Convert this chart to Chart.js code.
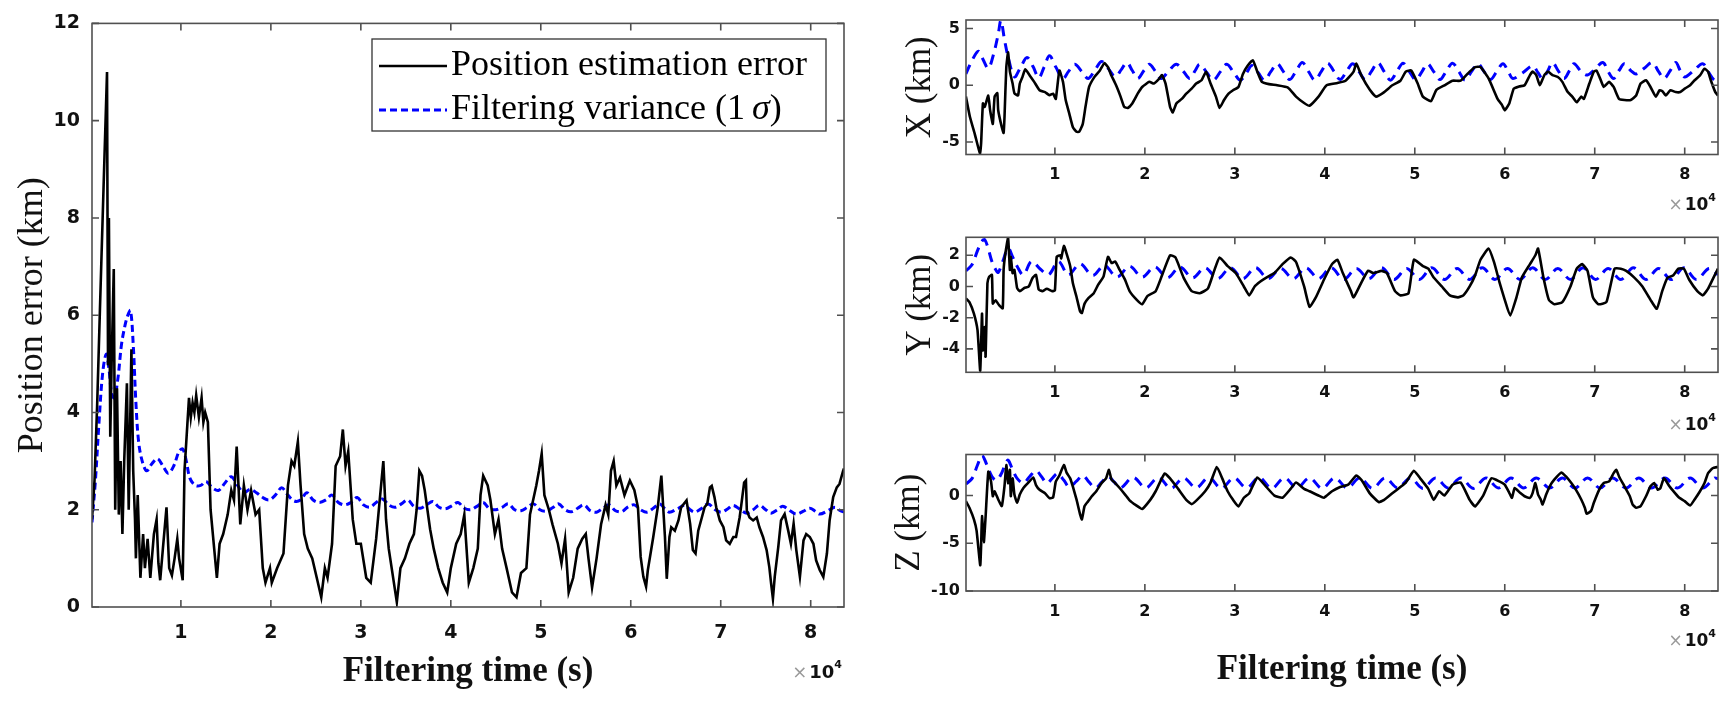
<!DOCTYPE html>
<html>
<head>
<meta charset="utf-8">
<script src="https://cdn.jsdelivr.net/npm/chart.js@4.4.1/dist/chart.umd.min.js"></script>
<style>
  html, body { margin: 0; padding: 0; background: #fff; }
  #wrap { position: relative; width: 1731px; height: 702px; overflow: hidden; }
  #wrap canvas { position: absolute; left: 0; top: 0; }
</style>
</head>
<body>
<div id="wrap">
  <canvas id="cMain" width="1731" height="702"></canvas>
  <canvas id="cX" width="1731" height="702"></canvas>
  <canvas id="cY" width="1731" height="702"></canvas>
  <canvas id="cZ" width="1731" height="702"></canvas>
</div>
<script>
// times are in units of 10^4 s (the axes carry the x10^4 multiplier)
const xTicks = [1, 2, 3, 4, 5, 6, 7, 8];
const posTicks = [0, 2, 4, 6, 8, 10, 12];
const xCompTicks = [-5, 0, 5];
const yCompTicks = [-4, -2, 0, 2];
const zCompTicks = [-10, -5, 0];

// left: position estimation error
const posErrT = [0.012,0.04,0.07,0.10,0.14,0.179,0.19,0.20,0.215,0.23,0.254,0.27,0.29,0.31,0.33,0.35,0.37,0.40,0.42,0.45,0.47,0.49,0.50,0.52,0.55,0.58,0.60,0.63,0.66,0.70,0.73,0.75,0.77,0.80,0.84,0.87,0.90,0.93,0.96,0.98,1.02,1.04,1.06,1.09,1.11,1.13,1.15,1.17,1.20,1.23,1.25,1.27,1.30,1.33,1.37,1.40,1.43,1.47,1.52,1.56,1.59,1.62,1.66,1.70,1.74,1.78,1.83,1.87,1.91,1.94,1.99,2.01,2.07,2.14,2.19,2.23,2.26,2.30,2.33,2.37,2.41,2.46,2.51,2.56,2.60,2.63,2.68,2.72,2.77,2.80,2.83,2.86,2.91,2.95,3.00,3.06,3.11,3.17,3.20,3.25,3.28,3.31,3.40,3.44,3.49,3.54,3.59,3.62,3.65,3.68,3.71,3.77,3.81,3.86,3.91,3.96,4.00,4.06,4.11,4.15,4.20,4.25,4.30,4.33,4.36,4.41,4.44,4.49,4.53,4.57,4.62,4.68,4.73,4.78,4.84,4.88,4.95,4.98,5.01,5.04,5.09,5.13,5.19,5.23,5.27,5.31,5.36,5.41,5.46,5.50,5.53,5.57,5.62,5.67,5.72,5.75,5.78,5.81,5.84,5.88,5.93,5.99,6.04,6.08,6.11,6.14,6.17,6.19,6.25,6.30,6.34,6.38,6.40,6.43,6.45,6.49,6.53,6.56,6.62,6.66,6.69,6.72,6.75,6.79,6.82,6.85,6.88,6.90,6.93,6.95,6.99,7.03,7.06,7.10,7.14,7.17,7.21,7.23,7.26,7.28,7.29,7.32,7.36,7.40,7.43,7.47,7.51,7.54,7.56,7.58,7.60,7.64,7.67,7.71,7.75,7.78,7.81,7.84,7.88,7.92,7.95,7.99,8.03,8.06,8.10,8.14,8.18,8.21,8.25,8.29,8.32,8.36,8.37];
const posErrV = [1.8,2.6,4.2,6.1,8.6,11.0,5.0,8.0,3.5,5.0,6.95,2.0,4.5,1.9,3.0,1.5,3.0,4.6,2.0,5.3,2.8,1.8,1.0,2.3,0.6,1.5,0.8,1.4,0.6,1.5,1.8,0.9,0.55,1.2,2.05,0.8,0.65,1.0,1.4,1.0,0.55,2.8,3.4,4.3,3.9,4.2,4.0,4.35,3.9,4.3,3.8,4.0,3.8,2.0,1.2,0.6,1.3,1.5,1.9,2.4,2.2,3.3,1.7,2.5,2.0,2.4,1.9,2.0,0.8,0.5,0.8,0.5,0.8,1.1,2.5,3.0,2.9,3.4,2.5,1.5,1.2,1.0,0.6,0.2,0.8,0.6,1.3,2.9,3.1,3.65,2.9,3.2,1.8,1.3,1.3,0.6,0.5,1.4,2.0,3.0,1.8,1.2,0.1,0.8,1.0,1.3,1.5,2.0,2.8,2.7,2.4,1.6,1.2,0.8,0.5,0.3,0.8,1.3,1.5,1.9,0.5,0.8,1.2,2.3,2.7,2.5,2.2,1.5,1.8,1.2,0.8,0.3,0.2,0.7,0.8,1.9,2.5,2.8,3.15,2.3,2.0,1.7,1.3,0.9,1.4,0.3,0.6,1.2,1.4,1.5,1.0,0.4,1.0,1.7,2.1,1.9,2.8,3.0,2.5,2.66,2.3,2.6,2.4,2.05,1.03,0.62,0.42,0.76,1.44,2.05,2.70,1.44,0.58,1.44,1.64,1.57,1.78,2.05,2.19,1.71,1.17,1.1,1.57,1.84,2.05,2.12,2.46,2.49,2.26,2.05,1.78,1.64,1.37,1.3,1.44,1.44,1.84,2.12,2.56,2.6,1.98,1.84,1.78,1.84,1.64,1.44,1.17,0.82,0.48,0.17,0.62,1.24,1.78,1.91,1.57,1.30,1.71,1.17,0.62,1.37,1.5,1.44,1.3,0.96,0.76,0.62,1.1,1.78,2.26,2.46,2.53,2.8,2.85];

// left: filtering variance (1 sigma)
const posSigT = [0.012,0.05,0.09,0.13,0.17,0.20,0.23,0.26,0.30,0.34,0.38,0.41,0.44,0.47,0.50,0.53,0.57,0.62,0.68,0.74,0.80,0.86,0.92,0.98,1.02,1.06,1.10,1.16,1.22,1.28,1.35,1.42,1.49,1.56,1.63,1.70,1.77,1.84,1.91,1.98,2.05,2.12,2.19,2.26,2.33,2.40,2.47,2.54,2.61,2.68,2.75,2.82,2.89,2.96,3.03,3.10,3.17,3.24,3.31,3.38,3.45,3.52,3.59,3.66,3.73,3.80,3.87,3.94,4.01,4.08,4.15,4.22,4.29,4.36,4.43,4.50,4.57,4.64,4.71,4.78,4.85,4.92,4.99,5.06,5.13,5.20,5.27,5.34,5.41,5.48,5.55,5.62,5.69,5.76,5.83,5.90,5.97,6.04,6.11,6.18,6.25,6.32,6.38,6.43,6.52,6.60,6.66,6.71,6.79,6.86,6.94,7.01,7.08,7.14,7.22,7.29,7.36,7.43,7.50,7.56,7.63,7.69,7.77,7.84,7.92,7.99,8.05,8.10,8.19,8.27,8.33,8.37];
const posSigV = [1.74,2.6,3.8,4.8,5.2,4.9,4.4,4.3,4.7,5.4,5.8,6.0,6.1,5.4,4.2,3.4,3.0,2.8,2.95,3.05,2.9,2.75,2.9,3.2,3.25,3.0,2.65,2.5,2.5,2.58,2.45,2.4,2.55,2.68,2.5,2.35,2.42,2.35,2.25,2.2,2.3,2.45,2.3,2.18,2.2,2.35,2.2,2.15,2.2,2.3,2.15,2.1,2.15,2.25,2.1,2.05,2.15,2.22,2.1,2.05,2.12,2.2,2.07,2.03,2.1,2.17,2.05,2.02,2.08,2.15,2.03,2.0,2.07,2.15,2.02,2.0,2.05,2.12,2.0,1.98,2.05,2.12,2.0,1.97,2.04,2.12,2.0,1.96,2.03,2.1,1.98,1.95,2.03,2.1,1.98,1.96,2.06,2.1,2.0,1.95,2.03,2.12,2.02,1.95,2.02,2.09,2.0,1.95,2.03,2.12,2.0,1.95,2.02,2.09,2.0,1.93,2.0,2.09,2.0,1.93,2.0,2.07,1.98,1.91,1.97,2.03,1.97,1.91,1.98,2.05,1.98,1.95];

// X component error and sigma
const xErrT = [0.011,0.056,0.11,0.167,0.18,0.20,0.22,0.26,0.28,0.31,0.33,0.36,0.37,0.41,0.43,0.44,0.46,0.48,0.50,0.53,0.55,0.59,0.61,0.64,0.67,0.72,0.77,0.83,0.89,0.94,0.98,1.01,1.05,1.09,1.12,1.16,1.20,1.24,1.27,1.31,1.34,1.38,1.44,1.50,1.55,1.59,1.62,1.68,1.73,1.77,1.81,1.86,1.92,1.97,2.05,2.10,2.16,2.19,2.23,2.28,2.31,2.35,2.41,2.46,2.52,2.57,2.63,2.68,2.73,2.79,2.83,2.88,2.93,2.98,3.04,3.09,3.14,3.20,3.25,3.30,3.38,3.47,3.59,3.68,3.77,3.83,3.93,4.02,4.14,4.23,4.32,4.35,4.41,4.50,4.57,4.66,4.75,4.84,4.90,4.96,5.03,5.09,5.18,5.24,5.33,5.42,5.51,5.61,5.67,5.73,5.82,5.92,5.97,6.00,6.05,6.10,6.16,6.22,6.28,6.31,6.35,6.39,6.44,6.48,6.53,6.59,6.64,6.70,6.75,6.80,6.85,6.88,6.94,6.99,7.02,7.06,7.10,7.16,7.21,7.27,7.33,7.40,7.46,7.51,7.57,7.62,7.68,7.72,7.75,7.79,7.84,7.90,7.95,8.00,8.06,8.11,8.17,8.22,8.26,8.29,8.34,8.37];
const xErrV = [-1.0,-2.8,-4.3,-6.0,-5.1,-1.6,-1.9,-0.9,-2.2,-3.4,-1.0,-0.7,-2.2,-3.7,-4.2,-2.8,1.6,2.9,1.2,0.15,-0.7,-0.9,0.15,0.74,1.4,0.87,0.3,-0.44,-0.6,-0.88,-0.74,-1.2,1.3,0.3,-1.3,-2.5,-3.7,-4.1,-4.1,-3.4,-1.9,-0.15,0.74,1.3,1.95,1.6,1.0,0.0,-1.0,-1.9,-2.0,-1.6,-0.74,-0.15,0.3,0.15,0.59,0.9,0.15,-1.9,-2.4,-1.6,-1.2,-0.74,-0.3,0.15,0.44,1.2,0.15,-1.0,-2.0,-1.3,-0.74,-0.44,-0.15,1.0,1.7,2.2,1.2,0.3,0.1,0.0,-0.2,-1.0,-1.56,-1.8,-1.0,0.0,0.2,0.4,1.2,1.9,0.8,-0.4,-1.0,-0.6,0.0,0.4,1.2,1.3,0.2,-1.0,-1.4,-0.4,0.0,0.4,0.4,1.2,1.6,1.6,0.6,-1.2,-1.75,-2.2,-1.6,-0.3,-0.1,0.0,0.9,1.2,0.9,0.0,0.9,1.2,0.9,0.73,0.3,-0.6,-1.0,-1.5,-1.0,-1.2,0.15,1.2,1.3,0.6,-0.15,0.3,-0.15,-1.2,-1.3,-1.3,-0.9,0.15,0.44,-0.15,-1.0,-0.44,-0.5,-0.9,-0.44,-0.6,-0.6,-0.3,0.0,0.44,0.87,1.46,1.2,0.44,-0.6,-0.9];
const xSigT = [0.011,0.08,0.15,0.20,0.26,0.32,0.37,0.40,0.44,0.48,0.55,0.62,0.69,0.76,0.82,0.88,0.94,1.01,1.09,1.15,1.22,1.30,1.37,1.45,1.52,1.60,1.67,1.74,1.80,1.86,1.92,1.99,2.05,2.12,2.18,2.27,2.35,2.43,2.50,2.56,2.61,2.69,2.76,2.84,2.91,2.99,3.06,3.13,3.19,3.26,3.33,3.40,3.47,3.54,3.61,3.68,3.75,3.82,3.89,3.96,4.03,4.10,4.17,4.24,4.31,4.38,4.45,4.52,4.59,4.66,4.73,4.80,4.87,4.94,5.01,5.08,5.14,5.21,5.28,5.35,5.42,5.49,5.56,5.63,5.70,5.77,5.84,5.91,5.98,6.04,6.09,6.20,6.31,6.37,6.42,6.48,6.53,6.60,6.66,6.72,6.77,6.85,6.92,7.00,7.09,7.15,7.21,7.27,7.33,7.40,7.46,7.55,7.64,7.71,7.77,7.84,7.90,7.95,8.00,8.10,8.20,8.27,8.33,8.37];
const xSigV = [1.0,2.2,3.0,2.3,1.5,2.8,4.5,5.7,4.0,2.5,0.75,1.6,2.45,1.6,0.65,1.6,2.6,1.6,0.6,1.2,1.85,1.2,0.6,1.4,2.1,1.4,0.75,1.4,2.0,1.3,0.6,1.3,1.85,1.2,0.6,1.3,1.85,1.2,0.6,1.3,1.85,1.1,0.45,1.2,1.85,1.1,0.45,1.1,1.75,1.1,0.45,1.2,1.9,1.2,0.5,1.25,2.0,1.2,0.45,1.2,1.95,1.25,0.5,1.2,1.9,1.2,0.5,1.25,2.0,1.2,0.45,1.2,1.95,1.2,0.5,1.2,1.9,1.2,0.5,1.25,1.95,1.2,0.45,1.2,1.9,1.2,0.5,1.2,1.9,1.2,0.6,1.1,1.7,1.1,0.6,1.3,2.0,1.2,0.6,1.3,1.9,1.2,0.9,1.4,2.0,1.2,0.6,1.3,1.9,1.3,1.0,1.5,2.0,1.2,0.6,1.3,2.0,1.3,0.73,1.3,1.9,1.1,0.45,0.6];

// Y component error and sigma
const yErrT = [0.011,0.05,0.10,0.14,0.17,0.19,0.20,0.22,0.23,0.25,0.27,0.30,0.31,0.34,0.38,0.42,0.43,0.45,0.48,0.50,0.51,0.53,0.55,0.58,0.61,0.66,0.71,0.75,0.79,0.82,0.86,0.91,0.97,1.00,1.02,1.06,1.07,1.10,1.13,1.17,1.20,1.24,1.28,1.30,1.33,1.37,1.43,1.48,1.54,1.59,1.63,1.67,1.72,1.78,1.83,1.91,1.97,2.03,2.12,2.19,2.28,2.34,2.43,2.52,2.61,2.70,2.77,2.83,2.92,3.01,3.10,3.16,3.22,3.28,3.35,3.44,3.53,3.62,3.68,3.77,3.83,3.90,3.99,4.08,4.14,4.20,4.29,4.32,4.41,4.48,4.54,4.63,4.69,4.78,4.84,4.93,4.99,5.09,5.15,5.21,5.30,5.39,5.48,5.54,5.61,5.67,5.73,5.82,5.88,5.94,6.00,6.06,6.13,6.19,6.28,6.34,6.37,6.43,6.49,6.55,6.64,6.73,6.80,6.86,6.92,6.98,7.04,7.13,7.22,7.29,7.35,7.44,7.53,7.62,7.69,7.75,7.81,7.87,7.93,7.99,8.05,8.14,8.20,8.26,8.32,8.37];
const yErrV = [-0.76,-1.0,-1.74,-2.8,-5.4,-1.74,-4.1,-2.6,-4.5,0.2,0.63,0.74,-1.1,-0.88,-1.2,-1.4,1.06,2.13,3.1,1.06,1.9,0.85,1.06,-0.1,-0.3,-0.1,0.0,0.53,0.74,-0.2,-0.3,-0.15,-0.3,-0.25,1.9,2.0,1.8,2.6,2.1,1.3,0.2,-0.66,-1.6,-1.7,-1.1,-0.76,-0.45,0.1,0.63,1.9,1.5,1.6,1.06,0.42,-0.3,-0.86,-1.14,-0.6,-0.3,0.7,2.0,1.86,0.57,-0.3,-0.43,-0.14,1.0,1.86,1.3,0.86,0.0,-0.57,0.0,0.3,0.57,0.86,1.43,1.86,1.57,0.0,-1.3,-0.7,0.43,1.43,1.71,0.86,-0.3,-0.7,0.3,1.0,0.86,1.0,0.86,-0.3,-0.57,-0.43,1.71,1.3,1.14,0.57,0.0,-0.57,-0.7,-0.57,0.0,0.7,1.71,2.43,1.57,0.3,-0.86,-1.86,-0.7,0.57,1.43,2.0,2.43,0.57,-0.86,-1.14,-1.0,0.0,1.14,1.43,1.0,-0.7,-1.14,-1.0,1.14,1.14,1.0,0.57,0.0,-0.86,-1.43,-0.3,0.57,0.7,1.14,1.14,0.43,-0.3,-0.57,-0.14,0.57,1.14];
const ySigT = [0.011,0.08,0.14,0.19,0.22,0.26,0.30,0.34,0.37,0.42,0.48,0.53,0.58,0.65,0.74,0.84,0.93,1.04,1.15,1.28,1.42,1.55,1.69,1.83,1.97,2.11,2.25,2.39,2.53,2.67,2.81,2.95,3.09,3.23,3.37,3.51,3.65,3.79,3.93,4.07,4.21,4.35,4.49,4.63,4.77,4.91,5.05,5.19,5.33,5.47,5.61,5.75,5.89,6.03,6.17,6.31,6.45,6.59,6.73,6.87,7.01,7.15,7.29,7.43,7.57,7.71,7.85,7.99,8.13,8.27,8.37];
const ySigV = [1.0,1.4,2.3,2.9,3.0,2.4,1.6,1.1,0.9,1.6,2.45,1.9,1.3,0.75,1.6,1.1,0.75,1.6,0.75,1.45,0.7,1.35,0.6,1.3,0.6,1.25,0.55,1.25,0.55,1.2,0.5,1.2,0.5,1.2,0.5,1.15,0.5,1.2,0.5,1.2,0.45,1.15,0.5,1.2,0.45,1.15,0.45,1.2,0.45,1.15,0.45,1.2,0.45,1.15,0.45,1.2,0.45,1.15,0.45,1.2,0.45,1.15,0.45,1.2,0.45,1.15,0.45,1.2,0.45,1.15,0.75];

// Z component error and sigma
const zErrT = [0.011,0.05,0.10,0.13,0.17,0.18,0.19,0.21,0.23,0.26,0.29,0.31,0.33,0.37,0.41,0.44,0.46,0.48,0.50,0.51,0.53,0.55,0.58,0.61,0.65,0.70,0.76,0.79,0.83,0.89,0.94,0.98,1.01,1.05,1.10,1.13,1.17,1.20,1.24,1.28,1.30,1.33,1.37,1.41,1.46,1.52,1.57,1.60,1.63,1.67,1.72,1.78,1.83,1.90,1.97,2.06,2.12,2.22,2.28,2.37,2.46,2.52,2.58,2.67,2.73,2.80,2.86,2.92,2.98,3.04,3.10,3.16,3.25,3.35,3.44,3.53,3.62,3.68,3.77,3.83,3.93,3.99,4.08,4.17,4.26,4.35,4.41,4.50,4.60,4.66,4.75,4.84,4.90,4.99,5.06,5.15,5.21,5.27,5.33,5.42,5.51,5.61,5.67,5.76,5.85,5.94,6.00,6.05,6.08,6.11,6.17,6.22,6.28,6.31,6.34,6.37,6.40,6.42,6.46,6.50,6.55,6.63,6.68,6.74,6.79,6.85,6.89,6.91,6.96,6.99,7.05,7.10,7.16,7.21,7.24,7.27,7.33,7.39,7.42,7.46,7.51,7.57,7.62,7.66,7.70,7.73,7.77,7.83,7.89,7.94,8.00,8.06,8.11,8.17,8.22,8.26,8.31,8.37];
const zErrV = [-0.59,-1.28,-2.5,-3.7,-7.3,-5.25,-2.15,-4.9,-2.2,2.5,1.5,-0.07,0.45,-0.41,-1.1,1.0,3.2,1.3,2.7,-0.07,1.8,0.1,-0.76,0.1,0.79,1.3,1.9,1.1,0.6,0.24,-0.28,-0.2,1.45,2.1,3.2,2.4,1.8,0.93,-0.41,-1.97,-2.5,-1.1,-0.59,-0.07,0.45,1.31,1.83,2.7,1.66,1.31,0.79,0.1,-0.5,-1.0,-1.4,-0.45,0.45,2.3,1.8,0.7,-0.45,-0.9,-0.45,0.45,1.36,3.0,1.8,0.45,-0.45,-1.14,-0.23,0.23,1.9,0.9,0.0,-0.23,0.7,1.36,0.7,0.45,0.0,-0.23,0.45,0.9,1.14,2.1,1.6,0.23,-0.68,-0.45,0.23,0.9,1.36,2.6,1.8,0.7,-0.45,0.45,0.0,1.14,1.36,-0.45,-1.14,0.0,1.8,1.48,1.14,0.28,-0.24,0.79,0.28,-0.07,-0.24,0.28,1.31,0.1,-0.41,-0.93,0.1,0.97,1.66,2.42,2.0,1.31,0.62,-0.41,-1.28,-1.9,-1.6,-0.76,0.62,1.31,1.48,2.35,2.69,2.0,0.97,-0.07,-0.93,-1.28,-1.1,-0.07,0.97,1.31,0.62,0.79,1.83,0.97,0.28,-0.24,-0.59,-1.04,-0.41,0.45,1.31,2.35,2.86,3.0];
const zSigT = [0.011,0.08,0.14,0.19,0.24,0.30,0.35,0.40,0.45,0.48,0.53,0.58,0.65,0.72,0.79,0.85,0.91,0.97,1.03,1.10,1.16,1.24,1.31,1.38,1.45,1.52,1.59,1.66,1.73,1.87,2.01,2.15,2.29,2.43,2.57,2.71,2.85,2.99,3.13,3.27,3.41,3.55,3.69,3.83,3.97,4.11,4.25,4.39,4.53,4.67,4.81,4.95,5.09,5.23,5.37,5.51,5.65,5.79,5.93,6.07,6.21,6.35,6.50,6.64,6.78,6.92,7.06,7.20,7.35,7.49,7.63,7.78,7.92,8.06,8.20,8.33,8.37];
const zSigV = [1.2,1.8,3.2,4.2,3.3,2.0,1.6,2.2,3.3,3.7,2.7,1.8,1.3,2.0,2.6,2.0,1.3,1.8,2.3,1.6,0.9,1.5,2.1,1.4,0.8,1.4,2.0,1.4,0.8,1.9,0.8,1.9,0.75,1.85,0.8,1.9,0.75,1.85,0.8,1.9,0.75,1.85,0.8,1.85,0.75,1.85,0.8,1.85,0.75,1.85,0.8,1.85,0.75,1.85,0.8,1.85,0.75,1.85,0.79,1.83,0.79,1.83,0.79,1.83,0.79,1.83,0.79,1.83,0.79,1.83,0.79,1.83,0.79,1.83,0.79,1.83,1.75];

const SERIF = '"Liberation Serif", "Times New Roman", serif';
const TICKFONT = '"DejaVu Sans", "Liberation Sans", Arial, sans-serif';

function pts(ts, vs) {
  return ts.map((t, i) => ({ x: t, y: vs[i] }));
}

// MATLAB-like box: inward ticks on all four sides, x10^4 multiplier, optional legend
const matFrame = {
  id: 'matFrame',
  afterDatasetsDraw(chart, args, opts) {
    const { ctx, chartArea: a } = chart;
    const xs = chart.scales.x, ys = chart.scales.y;
    const tl = 7;
    ctx.save();
    ctx.strokeStyle = '#505050';
    ctx.lineWidth = 1.6;
    ctx.beginPath();
    xs.ticks.forEach(t => {
      const px = xs.getPixelForValue(t.value);
      ctx.moveTo(px, a.bottom); ctx.lineTo(px, a.bottom - tl);
      ctx.moveTo(px, a.top); ctx.lineTo(px, a.top + tl);
    });
    ys.ticks.forEach(t => {
      const py = ys.getPixelForValue(t.value);
      ctx.moveTo(a.left, py); ctx.lineTo(a.left + tl, py);
      ctx.moveTo(a.right, py); ctx.lineTo(a.right - tl, py);
    });
    ctx.stroke();
    ctx.strokeRect(a.left, a.top, a.right - a.left, a.bottom - a.top);

    // x10^4
    const s = opts.expSize;
    const yb = a.bottom + opts.expOffset;
    let x = a.right - 2;
    ctx.textBaseline = 'middle';
    ctx.textAlign = 'right';
    ctx.fillStyle = '#111';
    ctx.font = `bold ${Math.round(s * 0.62)}px ${TICKFONT}`;
    ctx.fillText('4', x, yb - s * 0.45);
    x -= ctx.measureText('4').width;
    ctx.font = `bold ${s}px ${TICKFONT}`;
    ctx.fillText('10', x, yb);
    x -= ctx.measureText('10').width + 2;
    ctx.fillStyle = '#9a9a9a';
    ctx.font = `${s}px ${TICKFONT}`;
    ctx.fillText('\u00d7', x, yb);

    if (opts.legend) drawLegend(chart, opts.legend);
    ctx.restore();
  }
};

function drawLegend(chart, L) {
  const ctx = chart.ctx;
  ctx.save();
  ctx.fillStyle = '#fff';
  ctx.fillRect(L.x, L.y, L.w, L.h);
  ctx.strokeStyle = '#333';
  ctx.lineWidth = 1.3;
  ctx.strokeRect(L.x, L.y, L.w, L.h);
  chart.data.datasets.forEach((ds, i) => {
    const cy = L.y + L.rows[i];
    ctx.save();
    ctx.strokeStyle = ds.borderColor;
    ctx.lineWidth = ds.borderWidth;
    ctx.setLineDash(ds.borderDash || []);
    ctx.beginPath();
    ctx.moveTo(L.x + L.line[0], cy);
    ctx.lineTo(L.x + L.line[1], cy);
    ctx.stroke();
    ctx.restore();
    let x = L.x + L.text;
    ctx.textBaseline = 'middle';
    ctx.textAlign = 'left';
    ctx.fillStyle = '#000';
    (ds.labelParts || [[ds.label, '']]).forEach(([txt, style]) => {
      ctx.font = `${style} ${L.size}px ${SERIF}`;
      ctx.fillText(txt, x, cy);
      x += ctx.measureText(txt).width;
    });
  });
  ctx.restore();
}

function makePanel(p) {
  const W = 1731, H = 702;
  const a = p.area;
  const datasets = [
    {
      label: p.errLabel || 'error',
      data: pts(p.err[0], p.err[1]),
      borderColor: '#000000',
      borderWidth: p.errWidth,
      pointRadius: 0,
      tension: p.errTension,
      clip: 0
    },
    {
      label: 'Filtering variance (1\u03c3)',
      labelParts: [['Filtering variance (1\u2009', ''], ['\u03c3', 'italic'], [')', '']],
      data: pts(p.sig[0], p.sig[1]),
      borderColor: '#0000ff',
      borderWidth: p.sigWidth,
      borderDash: p.dash,
      pointRadius: 0,
      tension: 0.35,
      clip: 0
    }
  ];
  const xScale = {
    type: 'linear',
    position: 'bottom',
    min: 0.012,
    max: 8.37,
    afterBuildTicks: s => { s.ticks = xTicks.map(v => ({ value: v })); },
    afterFit: s => { s.height = p.xAxisH; },
    grid: { display: false, drawTicks: false },
    border: { display: false },
    ticks: {
      color: '#111',
      font: { family: TICKFONT, size: p.tickSize, weight: 'bold' },
      padding: p.xTickPad,
      maxRotation: 0,
      autoSkip: false,
      callback: v => String(v)
    },
    title: p.xTitle ? {
      display: true,
      text: p.xTitle,
      color: '#111',
      font: { family: SERIF, size: 35, weight: 'bold' },
      padding: { top: 0, bottom: p.xTitlePad }
    } : { display: false }
  };
  const yScale = {
    type: 'linear',
    position: 'left',
    min: p.yMin,
    max: p.yMax,
    afterBuildTicks: s => { s.ticks = p.yTicks.map(v => ({ value: v })); },
    afterFit: s => { s.width = p.yAxisW; },
    grid: { display: false, drawTicks: false },
    border: { display: false },
    ticks: {
      color: '#111',
      font: { family: TICKFONT, size: p.tickSize, weight: 'bold' },
      padding: p.yTickPad,
      autoSkip: false,
      callback: v => String(v)
    },
    title: {
      display: true,
      text: p.yTitle,
      color: '#111',
      font: { family: SERIF, size: p.yTitleSize, weight: 'normal' },
      padding: { top: p.yTitlePad, bottom: 0 }
    }
  };
  return new Chart(document.getElementById(p.id), {
    type: 'line',
    data: { datasets },
    options: {
      responsive: false,
      animation: false,
      devicePixelRatio: 1,
      events: [],
      layout: {
        padding: {
          left: a.left - p.yAxisW,
          top: a.top,
          right: W - a.right,
          bottom: H - a.bottom - p.xAxisH
        }
      },
      scales: { x: xScale, y: yScale },
      plugins: {
        legend: { display: false },
        tooltip: { enabled: false },
        matFrame: { expSize: p.expSize, expOffset: p.expOffset, legend: p.legend || null }
      }
    },
    plugins: [matFrame]
  });
}

makePanel({
  id: 'cMain',
  area: { left: 92, top: 20, right: 844, bottom: 607 },
  yAxisW: 92, xAxisH: 95,
  yMin: 0, yMax: 12, yTicks: posTicks,
  err: [posErrT, posErrV], sig: [posSigT, posSigV],
  errLabel: 'Position estimation error',
  errWidth: 2.6, errTension: 0, sigWidth: 3, dash: [7, 4],
  tickSize: 19, xTickPad: 15, yTickPad: 12,
  yTitle: 'Position error (km)', yTitleSize: 36, yTitlePad: 11,
  xTitle: 'Filtering time (s)', xTitlePad: 9,
  expSize: 18, expOffset: 66,
  legend: { x: 372, y: 39, w: 454, h: 92, rows: [27, 71], line: [7, 75], text: 79, size: 36 }
});

const compCommon = {
  yAxisW: 96,
  errWidth: 2.6, errTension: 0.15, sigWidth: 3, dash: [10, 7],
  tickSize: 16, xTickPad: 11, yTickPad: 6,
  yTitleSize: 35, expSize: 17
};

makePanel(Object.assign({}, compCommon, {
  id: 'cX',
  area: { left: 966, top: 20, right: 1718, bottom: 154.5 },
  xAxisH: 45, yMin: -6.1, yMax: 5.75, yTicks: xCompTicks,
  err: [xErrT, xErrV], sig: [xSigT, xSigV],
  yTitle: 'X (km)', yTitlePad: 30, expOffset: 51
}));

makePanel(Object.assign({}, compCommon, {
  id: 'cY',
  area: { left: 966, top: 237.3, right: 1718, bottom: 372.3 },
  xAxisH: 45, yMin: -5.5, yMax: 3.15, yTicks: yCompTicks,
  err: [yErrT, yErrV], sig: [ySigT, ySigV],
  yTitle: 'Y (km)', yTitlePad: 30, expOffset: 53
}));

makePanel(Object.assign({}, compCommon, {
  id: 'cZ',
  area: { left: 966, top: 454.5, right: 1718, bottom: 591 },
  xAxisH: 111, yMin: -10, yMax: 4.3, yTicks: zCompTicks,
  err: [zErrT, zErrV], sig: [zSigT, zSigV],
  yTitle: 'Z (km)', yTitlePad: 19,
  xTitle: 'Filtering time (s)', xTitlePad: 11, expOffset: 51
}));
</script>
</body>
</html>
